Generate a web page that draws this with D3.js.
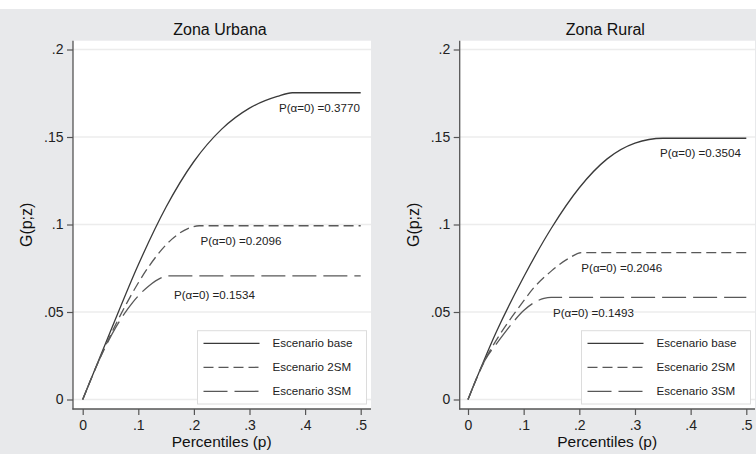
<!DOCTYPE html>
<html>
<head>
<meta charset="utf-8">
<script src="https://cdn.jsdelivr.net/npm/d3@7"></script>
<style>
  body { margin: 0; background: #fff; }
  svg { display: block; font-family: "Liberation Sans", Arial, sans-serif; }
</style>
</head>
<body>
<svg id="chart" width="756" height="454"></svg>
<script>
// data
const panelTitles = ['Zona Urbana', 'Zona Rural'];
const scenarioNames = ['Escenario base', 'Escenario 2SM', 'Escenario 3SM'];
const headcounts = [[0.3770, 0.2096, 0.1534], [0.3504, 0.2046, 0.1493]];
const xTicks = [0, 0.1, 0.2, 0.3, 0.4, 0.5];
const yTicks = [0, 0.05, 0.1, 0.15, 0.2];

const urbanaBaseP = [0, 0.05, 0.10, 0.15, 0.20, 0.25, 0.30, 0.35, 0.377, 0.5];
const urbanaBaseG = [0, 0.039, 0.077, 0.110, 0.136, 0.1545, 0.1665, 0.1732, 0.1753, 0.1753];
const urbana2smP = [0, 0.04, 0.08, 0.12, 0.16, 0.19, 0.2096, 0.5];
const urbana2smG = [0, 0.030, 0.0555, 0.0765, 0.0915, 0.0978, 0.0993, 0.0993];
const urbana3smP = [0, 0.03, 0.06, 0.09, 0.12, 0.14, 0.1534, 0.5];
const urbana3smG = [0, 0.0228, 0.0415, 0.0555, 0.0652, 0.0694, 0.0706, 0.0706];

const ruralBaseP = [0, 0.05, 0.10, 0.15, 0.20, 0.25, 0.30, 0.3504, 0.5];
const ruralBaseG = [0, 0.038, 0.070, 0.098, 0.121, 0.1375, 0.1465, 0.1493, 0.1493];
const rural2smP = [0, 0.03, 0.06, 0.09, 0.12, 0.15, 0.18, 0.2046, 0.5];
const rural2smG = [0, 0.0222, 0.0385, 0.052, 0.0645, 0.0735, 0.0805, 0.0839, 0.0839];
const rural3smP = [0, 0.03, 0.055, 0.08, 0.10, 0.12, 0.1365, 0.1493, 0.5];
const rural3smG = [0, 0.0222, 0.0335, 0.0438, 0.0508, 0.0556, 0.0578, 0.0584, 0.0584];

const zip = (ps, gs) => ps.map((p, i) => ({ p: p, g: gs[i] }));
const panelSeries = [
  [zip(urbanaBaseP, urbanaBaseG), zip(urbana2smP, urbana2smG), zip(urbana3smP, urbana3smG)],
  [zip(ruralBaseP, ruralBaseG), zip(rural2smP, rural2smG), zip(rural3smP, rural3smG)]
];

// layout (pixels)
const panels = [
  { left: 73, right: 371, x0: 82.7, x5: 360.7, labels: [[279, 108], [200.5, 240.5], [174, 294.5]] },
  { left: 459.7, right: 755, x0: 468, x5: 746.3, labels: [[660, 152.5], [581.3, 267.7], [553, 313.3]] }
];
const plotTop = 40.7, plotBottom = 409;
const lineStyles = [
  { stroke: '#3a3a3a', dash: null },
  { stroke: '#585858', dash: '10,5' },
  { stroke: '#585858', dash: '24,7' }
];

const svg = d3.select('#chart');
svg.append('rect').attr('width', 756).attr('height', 454).attr('fill', '#fff');
svg.append('rect').attr('y', 9).attr('width', 756).attr('height', 445).attr('fill', '#e8e9eb');

const fmt = v => v === 0 ? '0' : d3.format('.2~f')(v).replace(/^0\./, '.');

panels.forEach((pan, k) => {
  const x = d3.scaleLinear().domain([0, 0.5]).range([pan.x0, pan.x5]);
  const y = d3.scaleLinear().domain([0, 0.2]).range([399.5, 49.5]);
  const g = svg.append('g');

  g.append('rect')
    .attr('x', pan.left).attr('y', plotTop)
    .attr('width', pan.right - pan.left).attr('height', plotBottom - plotTop)
    .attr('fill', '#fff');

  // grid
  g.selectAll('.grid').data(yTicks).join('line')
    .attr('x1', pan.left).attr('x2', pan.right)
    .attr('y1', d => y(d)).attr('y2', d => y(d))
    .attr('stroke', '#ececec').attr('stroke-width', 1.5);

  // curves
  const line = d3.line().x(d => x(d.p)).y(d => y(d.g)).curve(d3.curveMonotoneX);
  panelSeries[k].forEach((s, i) => {
    g.append('path').datum(s)
      .attr('d', line)
      .attr('fill', 'none')
      .attr('stroke', lineStyles[i].stroke)
      .attr('stroke-width', 1.3)
      .attr('stroke-dasharray', lineStyles[i].dash);
  });

  // annotations
  headcounts[k].forEach((h, i) => {
    g.append('text')
      .attr('x', pan.labels[i][0]).attr('y', pan.labels[i][1])
      .attr('dy', '0.35em')
      .attr('font-size', 11.6).attr('fill', '#222')
      .text('P(\u03b1=0) =' + h.toFixed(4));
  });

  // axes
  const yAxis = g.append('g')
    .attr('transform', `translate(${pan.left},0)`)
    .call(d3.axisLeft(y).tickValues(yTicks).tickFormat(fmt).tickSize(6).tickPadding(3.5).tickSizeOuter(0));
  const xAxis = g.append('g')
    .attr('transform', `translate(0,${plotBottom})`)
    .call(d3.axisBottom(x).tickValues(xTicks).tickFormat(fmt).tickSize(6).tickPadding(5.5).tickSizeOuter(0));
  [yAxis, xAxis].forEach(a => {
    a.select('.domain').remove();
    a.selectAll('line').attr('stroke', '#555').attr('stroke-width', 1.2);
    a.selectAll('text').attr('font-size', 14).attr('fill', '#222').attr('font-family', null);
  });
  g.append('line')
    .attr('x1', pan.left).attr('x2', pan.left)
    .attr('y1', plotTop).attr('y2', plotBottom + 0.6)
    .attr('stroke', '#555').attr('stroke-width', 1.3);
  g.append('line')
    .attr('x1', pan.left - 0.6).attr('x2', pan.right)
    .attr('y1', plotBottom).attr('y2', plotBottom)
    .attr('stroke', '#555').attr('stroke-width', 1.3);

  // titles
  g.append('text')
    .attr('x', (pan.left + pan.right) / 2 - 2).attr('y', 34.5)
    .attr('text-anchor', 'middle').attr('font-size', 16).attr('fill', '#111')
    .text(panelTitles[k]);
  g.append('text')
    .attr('x', (pan.x0 + pan.x5) / 2).attr('y', 447)
    .attr('text-anchor', 'middle').attr('font-size', 15.5).attr('fill', '#111')
    .text('Percentiles (p)');
  g.append('text')
    .attr('transform', `translate(${pan.left - 46.5},${(plotTop + plotBottom) / 2}) rotate(-90)`)
    .attr('text-anchor', 'middle').attr('dy', '0.35em')
    .attr('font-size', 16).attr('fill', '#111')
    .text('G(p;z)');

  // legend
  const lw = 169, lh = 73.3;
  const lg = g.append('g').attr('transform', `translate(${pan.right - 4.5 - lw},${plotBottom - 5 - lh})`);
  lg.append('rect').attr('width', lw).attr('height', lh)
    .attr('fill', '#fff').attr('stroke', '#dcdcdc').attr('stroke-width', 1);
  scenarioNames.forEach((name, i) => {
    const yy = 12.6 + i * 24;
    lg.append('line')
      .attr('x1', 6).attr('x2', 62).attr('y1', yy).attr('y2', yy)
      .attr('stroke', lineStyles[i].stroke).attr('stroke-width', 1.3)
      .attr('stroke-dasharray', lineStyles[i].dash);
    lg.append('text')
      .attr('x', 75).attr('y', yy).attr('dy', '0.35em')
      .attr('font-size', 11.6).attr('fill', '#222')
      .text(name);
  });
});
</script>
</body>
</html>
